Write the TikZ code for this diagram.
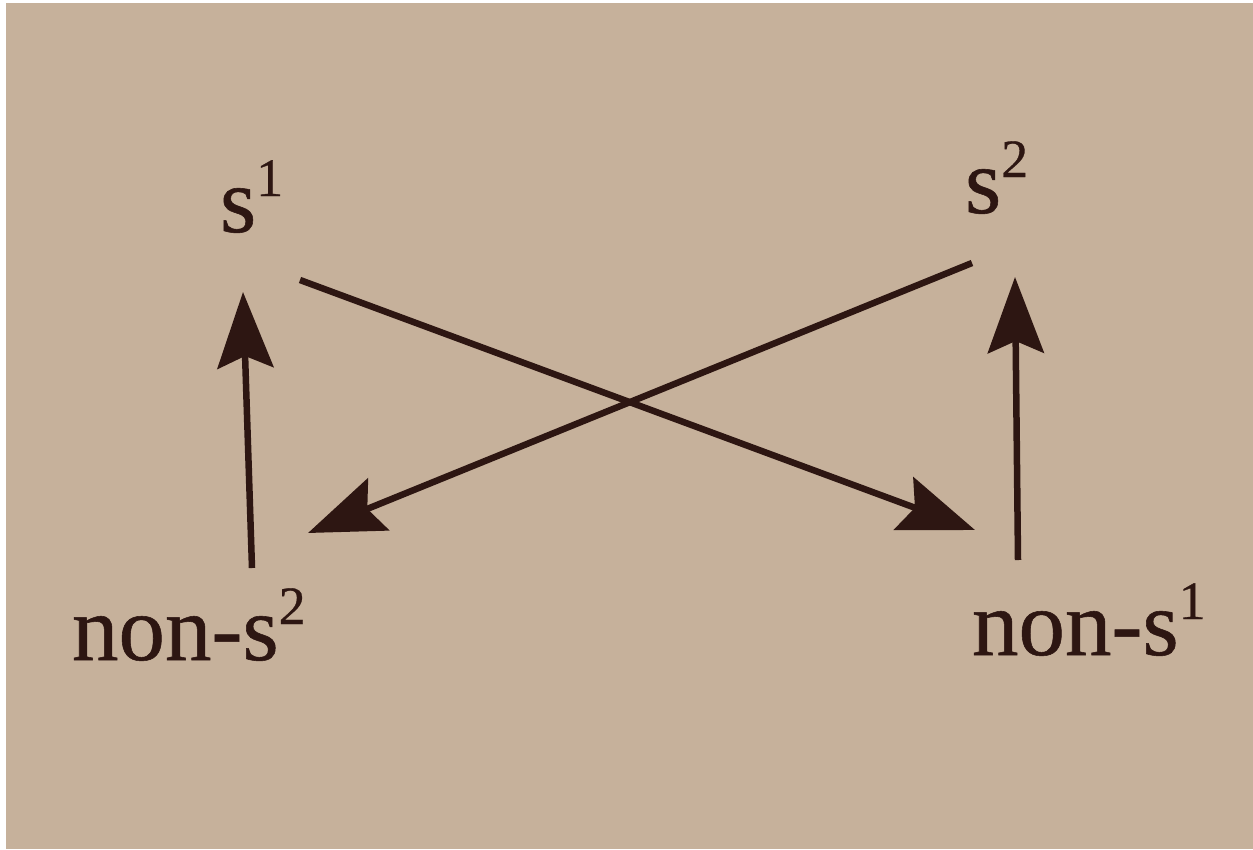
\documentclass[tikz,border=0pt]{standalone}
\usepackage{fontspec}
\setmainfont[FakeBold=0.6]{Liberation Serif}
\usetikzlibrary{arrows.meta}
\definecolor{paper}{RGB}{198,177,155}
\definecolor{ink}{RGB}{45,22,18}
\newcommand{\mysup}[1]{\raisebox{36pt}{\fontsize{54}{54}\selectfont #1}}
\tikzset{
  lbl/.style={inner sep=0pt, outer sep=0pt, anchor=base west, text=ink, font=\fontsize{93}{100}\selectfont},
  arr/.style={draw=ink, line width=6.5pt, -{Stealth[length=76pt, width=56pt, inset=12pt]}}
}
\begin{document}
\begin{tikzpicture}[x=1pt,y=-1pt]
\useasboundingbox (0,0) rectangle (1253,849);
\fill[white] (0,0) rectangle (1253,849);
\fill[paper] (6,3) rectangle (1253,849);
\node[lbl] (s1) at (220,232) {s\mysup{1}};
\node[lbl] (s2) at (965,213) {s\mysup{2}};
\node[lbl] (ns2) at (72,660) {non-s\mysup{2}};
\node[lbl] (ns1) at (972,655) {non-s\mysup{1}};
\coordinate (a1) at (252,568);
\coordinate (b1) at (243,292);
\coordinate (a2) at (1018,560);
\coordinate (b2) at (1015,277);
\coordinate (a3) at (300,280);
\coordinate (b3) at (975,530);
\coordinate (a4) at (972,263);
\coordinate (b4) at (308,533);
\draw[arr] (a1) -- (b1);
\draw[arr] (a2) -- (b2);
\draw[arr] (a3) -- (b3);
\draw[arr] (a4) -- (b4);
\end{tikzpicture}
\end{document}
